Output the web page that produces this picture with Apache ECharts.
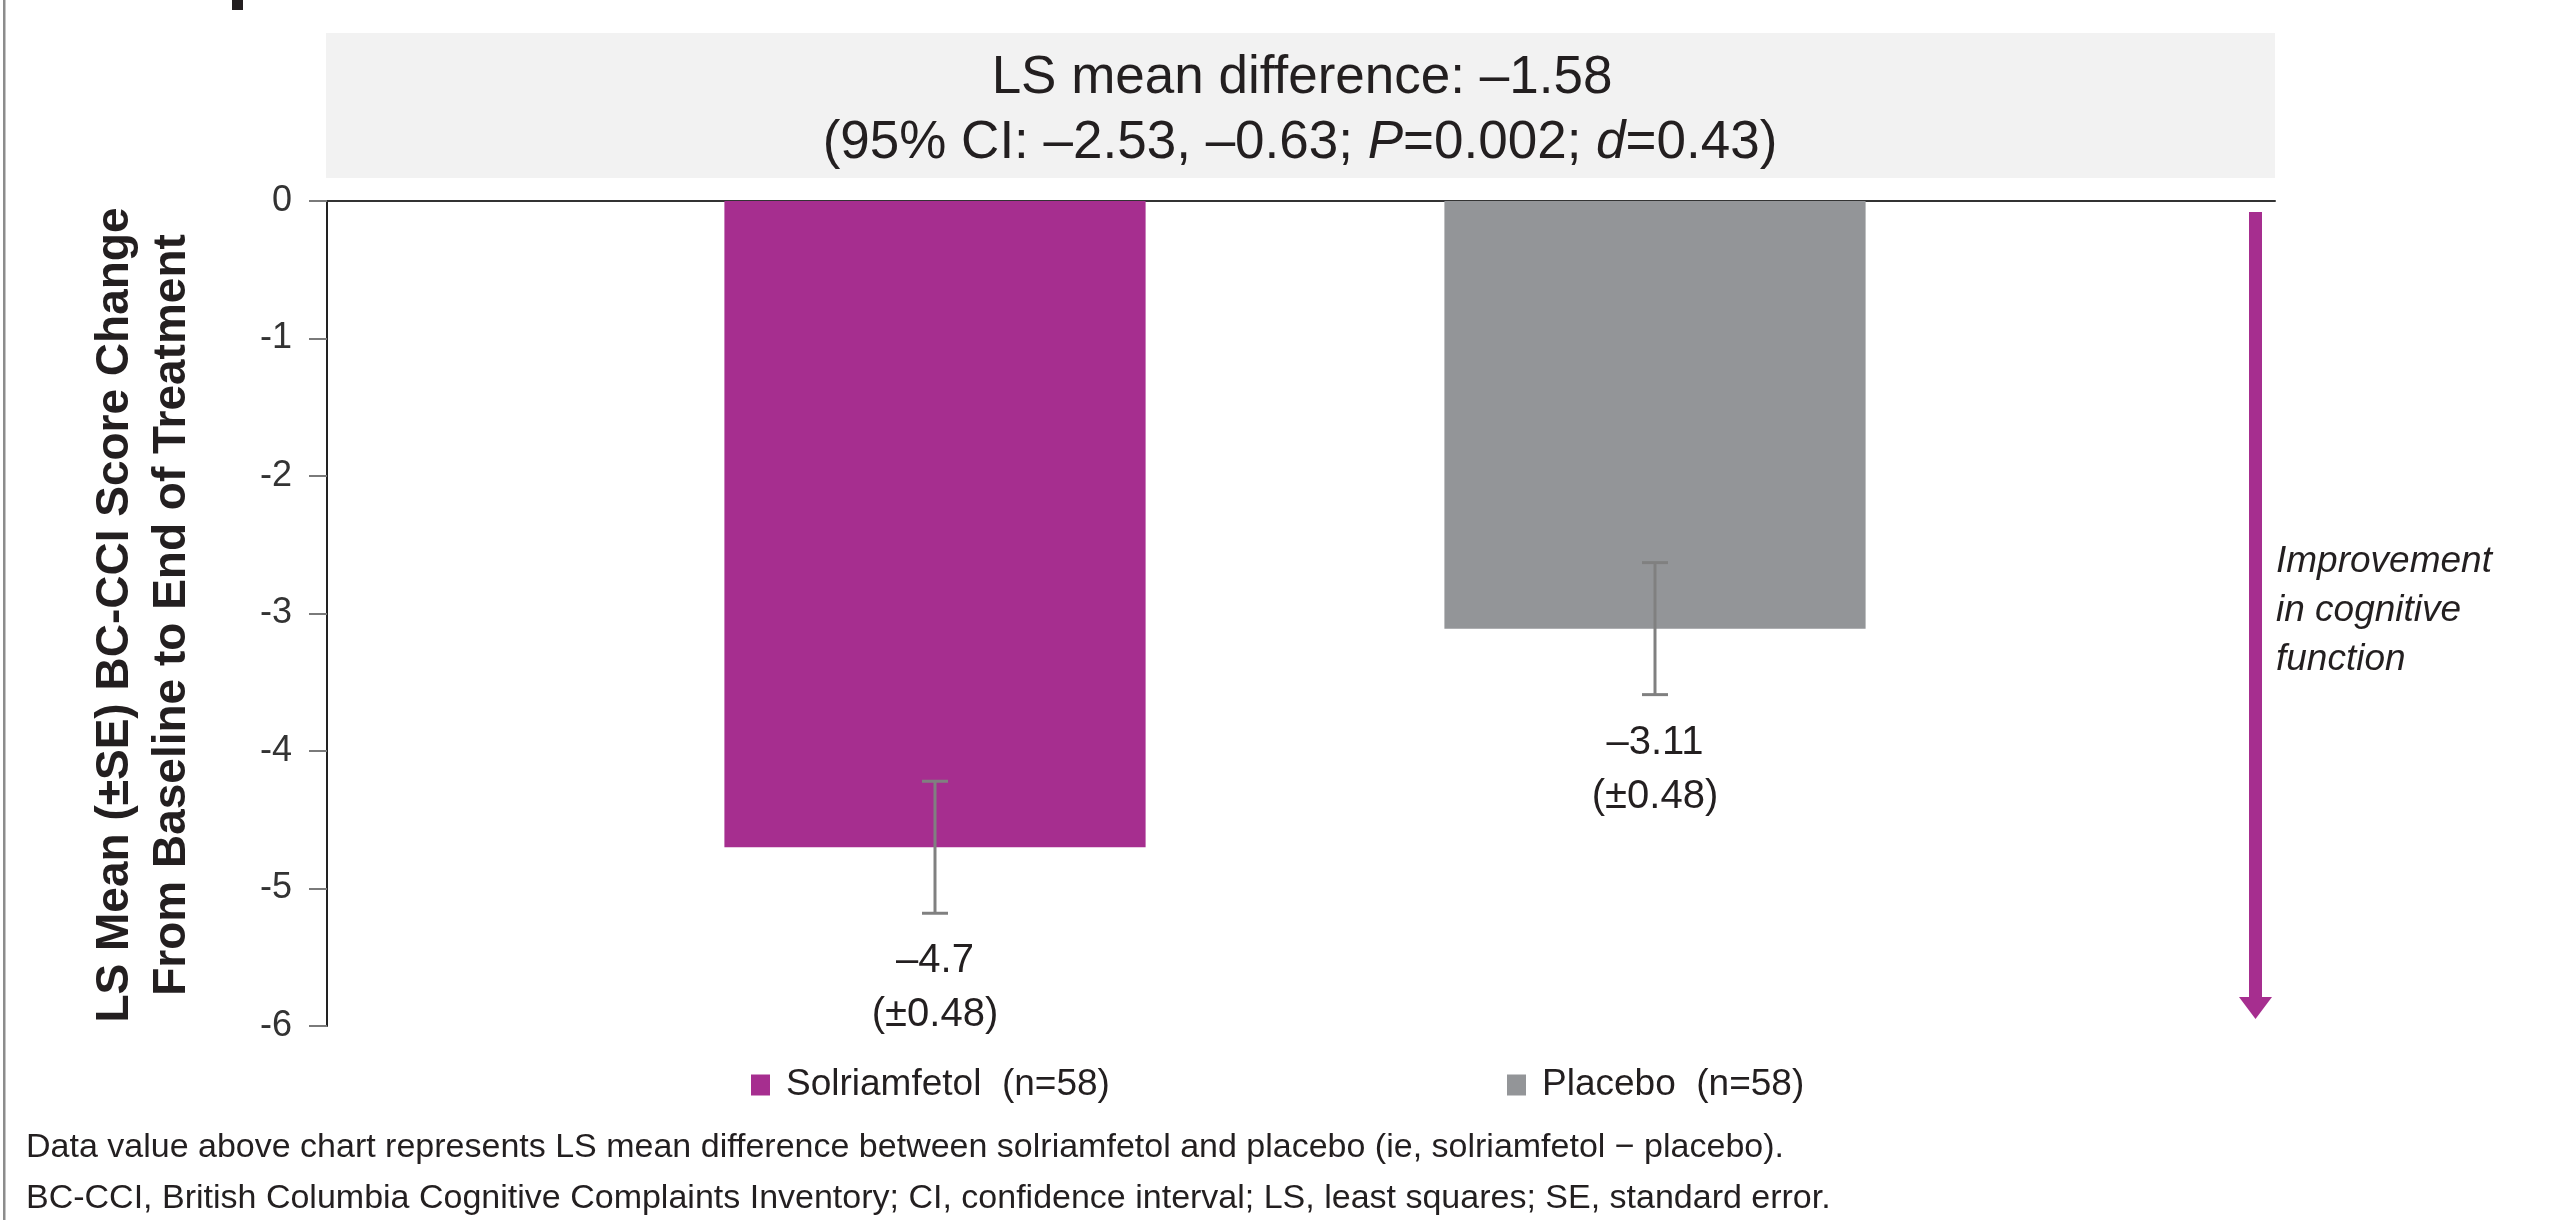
<!DOCTYPE html>
<html>
<head>
<meta charset="utf-8">
<title>BC-CCI Score Change</title>
<script src="https://cdn.jsdelivr.net/npm/echarts@6/dist/echarts.min.js"></script>
<style>
  html, body { margin: 0; padding: 0; background: #ffffff; }
  #chart { width: 2557px; height: 1220px; }
</style>
</head>
<body>
<div id="chart"></div>
<script>
// Treatment groups and their least-squares mean change (with standard error)
const categories = ['Solriamfetol  (n=58)', 'Placebo  (n=58)'];
const lsMeans = [-4.7, -3.11];
const standardErrors = [0.48, 0.48];
const barColors = ['#a62e8f', '#939598'];

// Y axis range and step
const yMin = -6;
const yMax = 0;
const yStep = 1;

// Between-group comparison shown in the header panel
const meanDifference = '–1.58';
const ciLow = '–2.53';
const ciHigh = '–0.63';
const pValue = '0.002';
const effectSize = '0.43';

const yAxisTitle = ['LS Mean (±SE) BC-CCI Score Change', 'From Baseline to End of Treatment'];
const arrowNote = ['Improvement', 'in cognitive', 'function'];
const footnotes = [
  'Data value above chart represents LS mean difference between solriamfetol and placebo (ie, solriamfetol − placebo).',
  'BC-CCI, British Columbia Cognitive Complaints Inventory; CI, confidence interval; LS, least squares; SE, standard error.'
];

const FONT = '"Liberation Sans", Arial, Helvetica, sans-serif';
const INK = '#231f20';
const ACCENT = '#a62e8f';

const chart = echarts.init(document.getElementById('chart'), null, { renderer: 'canvas' });

// One bar series per group so each gets its own legend entry
const barSeries = categories.map((name, i) => ({
  name: name,
  type: 'bar',
  xAxisIndex: 1,
  yAxisIndex: 1,
  barWidth: '58.5%',
  barGap: '-100%',
  itemStyle: { color: barColors[i] },
  data: categories.map((_, j) => (j === i ? lsMeans[i] : '-')),
  silent: true
}));

// Error bars (±SE) with the value label under the lower cap
const errorSeries = {
  type: 'custom',
  xAxisIndex: 1,
  yAxisIndex: 1,
  silent: true,
  z: 5,
  data: lsMeans.map((v, i) => [i, v, standardErrors[i]]),
  renderItem: function (params, api) {
    const idx = api.value(0);
    const mean = api.value(1);
    const se = api.value(2);
    const top = api.coord([idx, mean + se]);
    const bottom = api.coord([idx, mean - se]);
    const capHalf = 13;
    const lineStyle = { stroke: '#808080', lineWidth: 3 };
    const label = '–' + Math.abs(mean) + '\n(±' + se.toFixed(2) + ')';
    return {
      type: 'group',
      children: [
        { type: 'line', shape: { x1: top[0], y1: top[1], x2: bottom[0], y2: bottom[1] }, style: lineStyle },
        { type: 'line', shape: { x1: top[0] - capHalf, y1: top[1], x2: top[0] + capHalf, y2: top[1] }, style: lineStyle },
        { type: 'line', shape: { x1: bottom[0] - capHalf, y1: bottom[1], x2: bottom[0] + capHalf, y2: bottom[1] }, style: lineStyle },
        {
          type: 'text',
          style: {
            text: label,
            x: bottom[0],
            y: bottom[1] + 21,
            textAlign: 'center',
            textVerticalAlign: 'top',
            font: '40px ' + FONT,
            lineHeight: 54,
            fill: INK
          }
        }
      ]
    };
  }
};

const legendBase = {
  orient: 'horizontal',
  selectedMode: false,
  icon: 'rect',
  itemWidth: 19,
  itemHeight: 21,
  padding: 0,
  top: 1064,
  textStyle: {
    fontFamily: FONT,
    fontSize: 37,
    color: INK,
    lineHeight: 42,
    padding: [0, 0, 0, 11]
  }
};

const option = {
  backgroundColor: '#ffffff',
  animation: false,
  legend: [
    Object.assign({}, legendBase, { left: 751, data: [categories[0]] }),
    Object.assign({}, legendBase, { left: 1507, data: [categories[1]] })
  ],
  grid: [
    { left: 327, right: 282, top: 201, bottom: 194 },
    { left: 575, right: 542, top: 201, bottom: 194 }
  ],
  xAxis: [
    {
      gridIndex: 0,
      type: 'category',
      data: [''],
      position: 'top',
      axisLine: { show: true, onZero: false, lineStyle: { color: '#333333', width: 2 } },
      axisTick: { show: false },
      axisLabel: { show: false },
      splitLine: { show: false }
    },
    {
      gridIndex: 1,
      type: 'category',
      data: categories,
      show: false
    }
  ],
  yAxis: [
    {
      gridIndex: 0,
      type: 'value',
      min: yMin,
      max: yMax,
      interval: yStep,
      axisLine: { show: true, lineStyle: { color: '#222222', width: 2 } },
      axisTick: { show: true, length: 18, lineStyle: { color: '#7a7a7a', width: 2 } },
      axisLabel: { fontFamily: FONT, fontSize: 36, color: '#333333', margin: 35 },
      splitLine: { show: false }
    },
    {
      gridIndex: 1,
      type: 'value',
      min: yMin,
      max: yMax,
      interval: yStep,
      show: false
    }
  ],
  series: barSeries.concat([errorSeries]),
  graphic: [
    // left frame rule
    { type: 'rect', left: 3, top: 0, shape: { width: 2.5, height: 1220 }, style: { fill: '#8c8c8c' }, silent: true },
    // clipped heading stroke at the very top
    { type: 'rect', left: 232, top: 0, shape: { width: 11, height: 10 }, style: { fill: INK }, silent: true },
    // header panel
    { type: 'rect', left: 326, top: 33, shape: { width: 1949, height: 145 }, style: { fill: '#f2f2f2' }, silent: true },
    {
      type: 'text', x: 1302, y: 78, silent: true,
      style: {
        text: 'LS mean difference: ' + meanDifference,
        textAlign: 'center', textVerticalAlign: 'middle',
        font: '53px ' + FONT, fill: INK
      }
    },
    {
      type: 'text', x: 1300, y: 143, silent: true,
      style: {
        text: '{n|(95% CI: ' + ciLow + ', ' + ciHigh + '; }{i|P}{n|=' + pValue + '; }{i|d}{n|=' + effectSize + ')}',
        textAlign: 'center', textVerticalAlign: 'middle',
        fill: INK,
        rich: {
          n: { fontFamily: FONT, fontSize: 53, color: INK },
          i: { fontFamily: FONT, fontSize: 53, fontStyle: 'italic', color: INK }
        }
      }
    },
    // y-axis title
    {
      type: 'text', x: 143.5, y: 615, rotation: Math.PI / 2, silent: true,
      style: {
        text: yAxisTitle.join('\n'),
        textAlign: 'center', textVerticalAlign: 'middle',
        font: 'bold 46px ' + FONT, lineHeight: 57, fill: INK
      }
    },
    // direction-of-improvement arrow
    { type: 'line', silent: true, shape: { x1: 2255.5, y1: 212, x2: 2255.5, y2: 999 }, style: { stroke: ACCENT, lineWidth: 13 } },
    { type: 'polygon', silent: true, shape: { points: [[2239, 997], [2272, 997], [2255.5, 1019]] }, style: { fill: ACCENT } },
    {
      type: 'text', x: 2276, y: 537, silent: true,
      style: {
        text: arrowNote.join('\n'),
        textAlign: 'left', textVerticalAlign: 'top',
        font: 'italic 37px ' + FONT, lineHeight: 49, fill: INK
      }
    },
    // footnotes
    {
      type: 'text', x: 26, y: 1148, silent: true,
      style: { text: footnotes[0], textAlign: 'left', textVerticalAlign: 'middle', font: '34px ' + FONT, fill: INK }
    },
    {
      type: 'text', x: 26, y: 1199, silent: true,
      style: { text: footnotes[1], textAlign: 'left', textVerticalAlign: 'middle', font: '34px ' + FONT, fill: INK }
    }
  ]
};

chart.setOption(option);
</script>
</body>
</html>
